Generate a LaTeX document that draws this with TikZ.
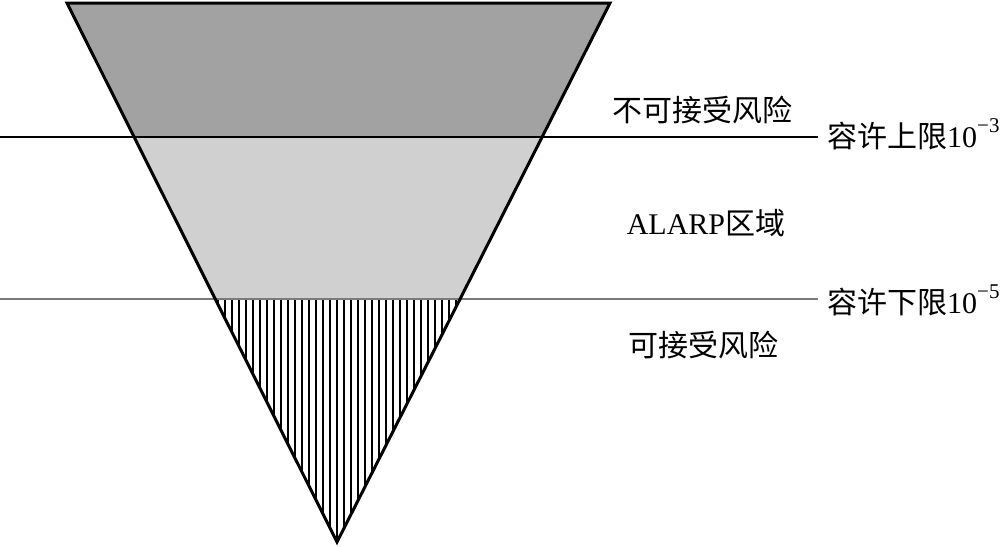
\documentclass[tikz,border=0pt]{standalone}
\usepackage{fontspec}
\setmainfont{Liberation Serif}
\newfontfamily\cjk{Noto Sans CJK SC}
\usetikzlibrary{calc}
\definecolor{riskHigh}{HTML}{A2A2A2}
\definecolor{riskMid}{HTML}{D0D0D0}
\definecolor{limGray}{HTML}{7A7A7A}
\newcommand{\expo}[1]{\raisebox{0.5em}{\fontsize{21}{21}\selectfont #1}}

\begin{document}
\begin{tikzpicture}[x=1pt,y=-1pt,
    zone/.style={inner sep=0pt,font=\fontsize{30}{35}\selectfont},
    lim/.style={inner sep=0pt,anchor=west,font=\fontsize{30}{35}\selectfont},
    upline/.style={black,line width=1.8pt},
    lowline/.style={limGray,line width=1.4pt},
    hatch/.style={black,line width=1.8pt}]

  \useasboundingbox (0,0) rectangle (1006,546);

  % corners of the triangle and the two limit lines
  \coordinate (tl) at (67,3);
  \coordinate (tr) at (610,3);
  \coordinate (ap) at (337,542);
  \coordinate (uL) at (0,137);
  \coordinate (uR) at (818,137);
  \coordinate (lL) at (0,299);
  \coordinate (lR) at (818,299);
  \coordinate (ul) at (intersection of tl--ap and uL--uR);
  \coordinate (ur) at (intersection of tr--ap and uL--uR);
  \coordinate (ll) at (intersection of tl--ap and lL--lR);
  \coordinate (lr) at (intersection of tr--ap and lL--lR);

  \fill[riskHigh] (tl) -- (tr) -- (ur) -- (ul) -- cycle;
  \fill[riskMid] (ul) -- (ur) -- (lr) -- (ll) -- cycle;
  \begin{scope}
    \clip (ll) -- (lr) -- (ap) -- cycle;
    \foreach \x in {218,225,...,460}
      \draw[hatch] (\x,299) -- (\x,546);
  \end{scope}

  \draw[upline] (uL) -- (uR);
  \draw[lowline] (lL) -- (lR);
  \draw[black,line width=3pt,line join=miter] (tl) -- (tr) -- (ap) -- cycle;

  \node[zone] (high) at (702,110) {\cjk 不可接受风险};
  \node[zone] (alarp) at (706,223) {ALARP{\cjk 区域}};
  \node[zone] (low) at (703,345) {\cjk 可接受风险};

  \node[lim] (upper) at (827,134) {{\cjk 容许上限}10\expo{−3}};
  \node[lim] (lower) at (827,300) {{\cjk 容许下限}10\expo{−5}};
\end{tikzpicture}
\end{document}
